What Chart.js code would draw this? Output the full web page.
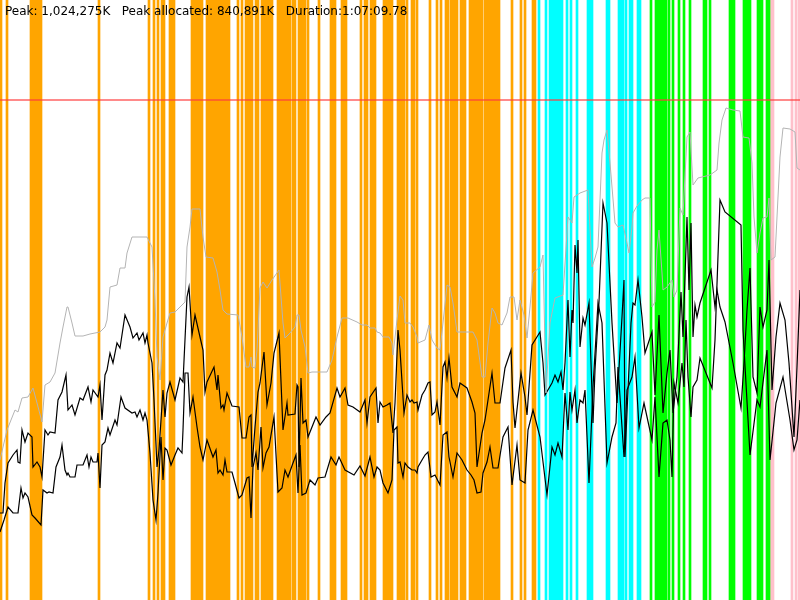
<!DOCTYPE html>
<html>
<head>
<meta charset="utf-8">
<script src="https://cdn.jsdelivr.net/npm/chart.js@4"></script>
<style>
  body { margin: 0; background: #fff; }
  #wrap { position: relative; width: 800px; height: 600px; }
  #info {
    position: absolute; left: 5px; top: 4px;
    font: 12px "DejaVu Sans", sans-serif; color: #000;
    white-space: pre;
  }
</style>
</head>
<body>
<div id="wrap">
  <canvas id="memChart" width="800" height="600"></canvas>
  <div id="info">Peak: 1,024,275K   Peak allocated: 840,891K   Duration:1:07:09.78</div>
</div>
<script>
// samples 0..800, memory in MB
const peakMB = 1000;
const maxMB = 1200;

// gc events (sample index), one list per kind
const gcOrange = [1, 7, 31, 33, 35, 37, 39, 41, 99, 149, 154, 158, 162, 164, 170, 172, 174,
  192, 194, 196, 198, 200, 202, 207, 209, 211, 213, 215, 217, 219, 221, 223, 225, 227, 229,
  238, 242, 246, 248, 250, 252, 256, 258, 262, 264, 266, 268, 270, 272, 278, 280, 282, 284,
  286, 288, 290, 293, 295, 299, 301, 303, 305, 308, 319, 331, 333, 335, 342, 344, 346, 361,
  365, 367, 371, 373, 375, 384, 386, 388, 390, 392, 398, 400, 402, 404, 407, 412, 414, 417,
  430, 437, 441, 446, 448, 451, 453, 455, 457, 461, 463, 465, 470, 472, 474, 476, 478, 480,
  482, 485, 487, 489, 491, 493, 495, 497, 499, 512, 521, 525, 533, 535];
const gcCyan = [539, 546, 550, 552, 554, 556, 558, 560, 562, 567, 571, 577, 588, 590, 592,
  607, 609, 619, 621, 623, 626, 630, 632, 638, 640];
const gcGreen = [651, 656, 658, 660, 662, 664, 666, 669, 673, 679, 684, 690, 704, 706, 710,
  730, 732, 734, 744, 746, 748, 750, 758, 760, 762, 767, 769];
const gcPink = [771, 773, 792, 796, 799];

// allocated heap (grey)
const allocated = [[0,280],[7,340],[15,380],[18,376],[22,404],[28,406],[33,424],[37,394],[42,356],
  [45,430],[50,436],[55,454],[60,514],[63,546],[67,586],[68,586],[72,554],[75,528],[83,528],
  [90,532],[100,536],[105,546],[107,560],[110,626],[117,630],[120,664],[125,664],[127,694],
  [132,726],[147,726],[152,706],[155,600],[157,486],[160,440],[163,526],[167,554],[170,574],
  [175,576],[180,586],[185,596],[187,706],[190,746],[192,782],[200,782],[203,726],[206,686],
  [213,684],[217,656],[220,620],[223,580],[227,572],[238,570],[242,526],[246,466],[249,466],
  [251,486],[252,466],[255,464],[257,500],[260,624],[263,636],[267,624],[272,640],[279,660],
  [283,554],[285,524],[290,534],[295,546],[297,570],[299,570],[301,540],[305,506],[308,454],
  [312,456],[327,456],[332,480],[337,526],[342,564],[348,564],[357,556],[362,550],[367,550],
  [370,544],[375,544],[377,536],[380,534],[383,526],[389,526],[392,514],[393,490],[397,560],
  [400,608],[403,600],[405,554],[410,554],[413,546],[417,526],[418,514],[425,520],[429,550],
  [432,520],[437,504],[440,500],[443,554],[447,630],[450,626],[453,594],[457,536],[473,536],
  [477,520],[482,446],[485,446],[488,514],[492,584],[495,574],[498,554],[502,550],[507,574],
  [510,606],[514,606],[517,560],[520,600],[524,570],[527,524],[530,586],[533,654],[540,666],
  [543,690],[546,414],[550,554],[555,604],[563,610],[568,766],[572,754],[574,806],[580,814],
  [588,820],[592,666],[595,684],[598,706],[600,800],[602,894],[604,920],[607,940],[610,874],
  [615,754],[618,746],[623,750],[627,714],[629,694],[632,746],[633,774],[637,788],[642,800],
  [645,804],[650,804],[652,586],[655,596],[657,700],[659,740],[662,654],[663,620],[667,626],
  [672,640],[674,606],[677,620],[680,784],[683,770],[687,926],[690,936],[693,830],[698,844],
  [702,846],[710,850],[717,860],[719,914],[722,960],[726,984],[733,980],[740,978],[743,926],
  [749,924],[752,874],[754,766],[757,694],[760,734],[763,764],[767,766],[769,804],[771,680],
  [775,686],[780,886],[783,944],[790,942],[795,936],[797,864],[800,860]];

// used heap, upper trace
const usedHigh = [[0,174],[3,174],[5,234],[8,274],[13,290],[17,300],[18,276],[20,274],[22,340],
  [25,316],[28,334],[32,326],[33,266],[37,276],[40,266],[42,246],[45,340],[48,330],[50,336],
  [55,334],[58,400],[62,416],[66,450],[68,380],[72,390],[75,370],[80,404],[83,400],[88,426],
  [91,396],[93,420],[98,406],[100,430],[102,360],[105,450],[107,460],[110,494],[113,474],
  [117,514],[120,504],[125,570],[130,546],[133,524],[137,534],[139,520],[143,534],[145,514],
  [147,530],[148,514],[152,474],[154,400],[157,266],[159,300],[163,420],[165,366],[167,414],
  [170,436],[175,400],[180,444],[183,436],[187,606],[189,626],[192,530],[195,570],[200,526],
  [203,500],[205,416],[207,436],[214,466],[217,420],[218,450],[221,384],[223,390],[224,380],
  [227,414],[232,388],[239,386],[242,324],[246,324],[249,366],[251,370],[252,266],[255,346],
  [258,416],[260,434],[264,496],[267,390],[271,434],[274,494],[279,534],[283,340],[287,394],
  [288,370],[295,372],[297,430],[298,426],[299,266],[301,444],[303,354],[306,360],[308,326],
  [312,346],[316,366],[320,350],[326,366],[330,374],[337,424],[340,406],[345,424],[348,390],
  [353,386],[360,376],[365,400],[367,354],[370,406],[376,424],[378,354],[380,396],[383,386],
  [387,390],[390,394],[393,334],[395,394],[398,540],[400,500],[404,374],[407,410],[410,396],
  [412,400],[414,394],[417,396],[418,380],[422,410],[425,420],[428,434],[430,436],[432,370],
  [435,376],[437,396],[440,350],[443,466],[445,476],[447,444],[449,484],[452,426],[457,406],
  [460,434],[467,424],[472,396],[475,374],[477,266],[482,334],[485,360],[488,400],[492,454],
  [495,394],[500,394],[505,464],[511,500],[513,396],[515,344],[521,454],[525,406],[527,370],
  [532,510],[540,536],[543,474],[545,410],[552,434],[555,450],[558,436],[561,456],[563,420],
  [565,474],[568,600],[570,486],[572,580],[573,554],[575,710],[577,654],[578,720],[580,506],
  [583,564],[585,550],[589,594],[593,354],[595,460],[599,596],[603,794],[607,754],[612,554],
  [617,394],[622,566],[624,640],[625,286],[628,420],[631,554],[633,594],[635,590],[638,640],
  [642,566],[645,494],[652,536],[655,410],[659,570],[663,374],[667,454],[670,500],[673,374],
  [677,446],[681,616],[683,526],[685,646],[687,766],[689,620],[691,754],[693,526],[695,590],
  [697,566],[700,594],[711,660],[715,586],[717,620],[720,586],[725,556],[733,474],[741,384],
  [744,474],[747,580],[750,664],[753,446],[757,414],[760,586],[763,546],[767,580],[769,680],
  [772,420],[776,526],[780,594],[785,560],[789,474],[794,326],[797,466],[800,620]];

// used heap, lower trace
const usedLow = [[0,136],[4,160],[8,186],[13,174],[18,174],[21,224],[23,204],[25,214],[28,206],
  [32,170],[35,164],[41,150],[43,220],[47,214],[49,216],[53,214],[56,266],[60,286],[62,310],
  [65,260],[67,250],[68,254],[70,246],[75,246],[77,270],[83,270],[87,290],[89,266],[91,286],
  [93,276],[97,276],[98,294],[100,224],[102,310],[105,316],[108,344],[110,330],[115,360],
  [117,350],[121,406],[125,384],[132,374],[135,376],[137,366],[140,380],[143,360],[145,374],
  [147,360],[150,294],[153,200],[156,160],[158,214],[161,326],[163,240],[165,304],[167,300],
  [171,270],[175,290],[178,304],[182,294],[183,340],[185,454],[188,454],[190,374],[193,406],
  [197,346],[200,306],[203,280],[207,320],[213,286],[216,300],[218,254],[220,260],[223,250],
  [225,280],[227,256],[232,256],[235,234],[239,204],[242,210],[247,244],[249,246],[251,164],
  [253,266],[256,294],[258,260],[261,346],[263,264],[266,294],[269,306],[274,366],[278,216],
  [282,224],[285,260],[288,246],[293,274],[296,290],[298,214],[300,310],[302,210],[306,214],
  [310,240],[315,230],[318,244],[325,246],[331,286],[336,270],[339,286],[345,260],[354,250],
  [360,268],[365,248],[370,286],[374,246],[377,266],[380,260],[383,234],[388,214],[392,240],
  [394,340],[397,346],[398,274],[400,276],[403,246],[405,274],[408,266],[412,260],[415,260],
  [417,254],[418,266],[422,280],[425,290],[428,296],[431,246],[435,250],[440,230],[443,330],
  [447,336],[449,286],[453,246],[457,294],[462,280],[467,260],[471,250],[474,240],[477,214],
  [481,216],[483,254],[487,276],[490,306],[493,264],[498,264],[503,326],[508,346],[512,230],
  [517,310],[520,240],[525,234],[528,340],[533,380],[540,326],[547,210],[552,306],[555,290],
  [558,314],[562,286],[565,414],[568,340],[570,416],[572,380],[575,420],[577,354],[580,400],
  [583,394],[585,420],[589,234],[593,426],[598,594],[602,554],[607,274],[612,326],[616,354],
  [618,466],[624,286],[627,420],[632,446],[635,486],[639,344],[644,394],[652,320],[655,406],
  [659,246],[663,354],[667,360],[670,320],[672,246],[674,434],[678,394],[682,474],[684,426],
  [686,560],[688,446],[691,366],[693,426],[697,440],[700,484],[712,424],[715,520],[720,800],
  [725,776],[741,750],[743,540],[750,290],[757,400],[760,386],[767,500],[770,280],[776,394],
  [783,446],[790,360],[794,300],[797,320],[800,400]];

function toPoints(pairs) {
  return pairs.map(p => ({ x: p[0], y: p[1] }));
}

function gcBars(list, color) {
  return {
    type: 'bar',
    data: list.map(x => ({ x: x, y: maxMB })),
    backgroundColor: color,
    borderWidth: 0,
    barThickness: 2,
    grouped: false,
    order: 10
  };
}

function trace(pairs, color, width) {
  return {
    type: 'line',
    data: toPoints(pairs),
    borderColor: color,
    borderWidth: width,
    pointRadius: 0,
    tension: 0,
    fill: false,
    order: 2
  };
}

const ctx = document.getElementById('memChart');
const chart = new Chart(ctx, {
  type: 'bar',
  data: {
    datasets: [
      gcBars(gcOrange, '#ffa500'),
      gcBars(gcCyan, '#00ffff'),
      gcBars(gcGreen, '#00ff00'),
      gcBars(gcPink, '#ffc0cb'),
      {
        type: 'line',
        data: [{ x: 0, y: peakMB }, { x: 800, y: peakMB }],
        borderColor: 'rgba(255, 60, 60, 0.8)',
        borderWidth: 1.5,
        pointRadius: 0,
        order: 1
      },
      trace(allocated, '#b4b4b4', 1),
      trace(usedHigh, '#000000', 1.2),
      trace(usedLow, '#000000', 1.2)
    ]
  },
  options: {
    responsive: false,
    animation: false,
    layout: { padding: 0 },
    plugins: {
      legend: { display: false },
      tooltip: { enabled: false }
    },
    scales: {
      x: { type: 'linear', min: 0, max: 800, offset: false, display: false },
      y: { min: 0, max: maxMB, display: false }
    }
  }
});
</script>
</body>
</html>
